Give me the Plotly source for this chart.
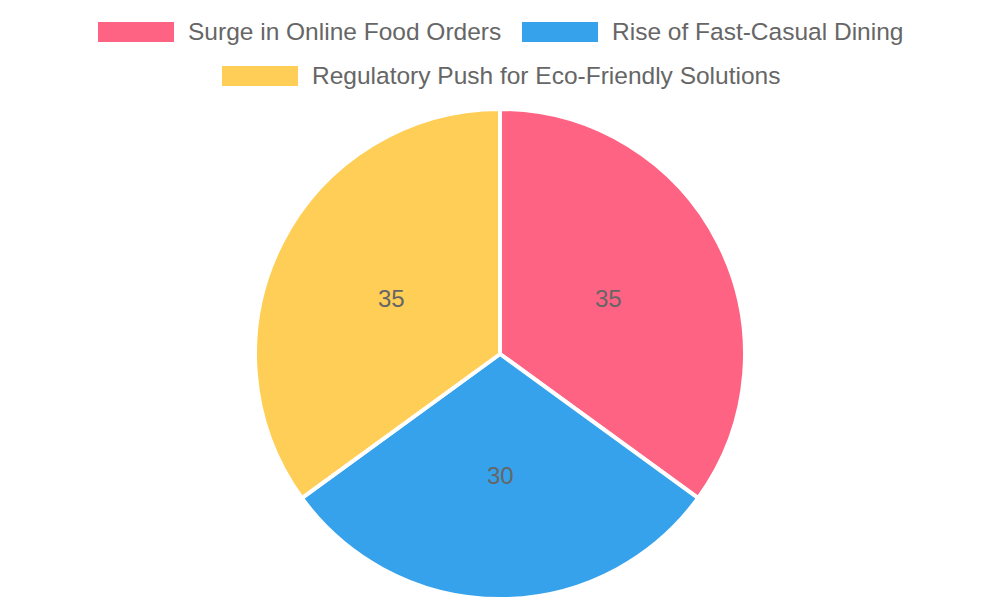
import math
import plotly.graph_objects as go

# slices, in drawing order (clockwise from 12 o'clock)
LABELS = ["Surge in Online Food Orders", "Rise of Fast-Casual Dining", "Regulatory Push for Eco-Friendly Solutions"]
VALUES = [35, 30, 35]
COLORS = ["#FF6384", "#36A2EB", "#FFCE56"]

FONT = "Liberation Sans, Arial, sans-serif"
TEXT_COLOR = "#666666"

W, H = 1000, 600
PAGE_MARGIN = 8   # browser body margin shifts the whole figure by this much

# pie geometry in page pixels
CX, CY, R = 500, 354, 243
R_PAD = 2         # plotly draws the pie slightly inside its domain

# legend layout (page pixels): box left edge, row centre
LEGEND_POS = [(98, 32), (522, 32), (222, 76)]
BOX_W, BOX_H = 76, 20


def px(x):
    return (x - PAGE_MARGIN) / W


def py(y):
    return 1 - (y - PAGE_MARGIN) / H


fig = go.Figure()
fig.add_trace(go.Pie(
    labels=LABELS,
    values=VALUES,
    marker=dict(colors=COLORS, line=dict(color="white", width=4)),
    sort=False,
    direction="clockwise",
    rotation=0,
    textinfo="none",
    domain=dict(x=[px(CX - R - R_PAD), px(CX + R + R_PAD)],
                y=[py(CY + R + R_PAD), py(CY - R - R_PAD)]),
    showlegend=False,
    hoverinfo="label+value",
))

shapes = []
annotations = []

# value labels at half radius, middle of each slice
total = sum(VALUES)
start = 0
for v in VALUES:
    mid = (start + v / 2) / total * 2 * math.pi
    start += v
    annotations.append(dict(
        text=str(v), xref="paper", yref="paper",
        x=px(CX + 0.5 * R * math.sin(mid)), y=py(CY - 0.5 * R * math.cos(mid)),
        xanchor="center", yanchor="middle", showarrow=False,
        font=dict(family=FONT, size=24, color=TEXT_COLOR),
    ))

# hand-drawn legend so the wide colour boxes match the original
for (x0, yc), label, color in zip(LEGEND_POS, LABELS, COLORS):
    shapes.append(dict(
        type="rect", xref="paper", yref="paper",
        x0=px(x0), x1=px(x0 + BOX_W),
        y0=py(yc + BOX_H / 2), y1=py(yc - BOX_H / 2),
        fillcolor=color, line=dict(width=0),
    ))
    annotations.append(dict(
        text=label, xref="paper", yref="paper",
        x=px(x0 + BOX_W + 12), y=py(yc - 1),
        xanchor="left", yanchor="middle", showarrow=False,
        font=dict(family=FONT, size=24.5, color=TEXT_COLOR),
    ))

fig.update_layout(
    width=W, height=H,
    margin=dict(l=0, r=0, t=0, b=0),
    paper_bgcolor="white",
    plot_bgcolor="white",
    shapes=shapes,
    annotations=annotations,
)

fig.write_html("out.html")
